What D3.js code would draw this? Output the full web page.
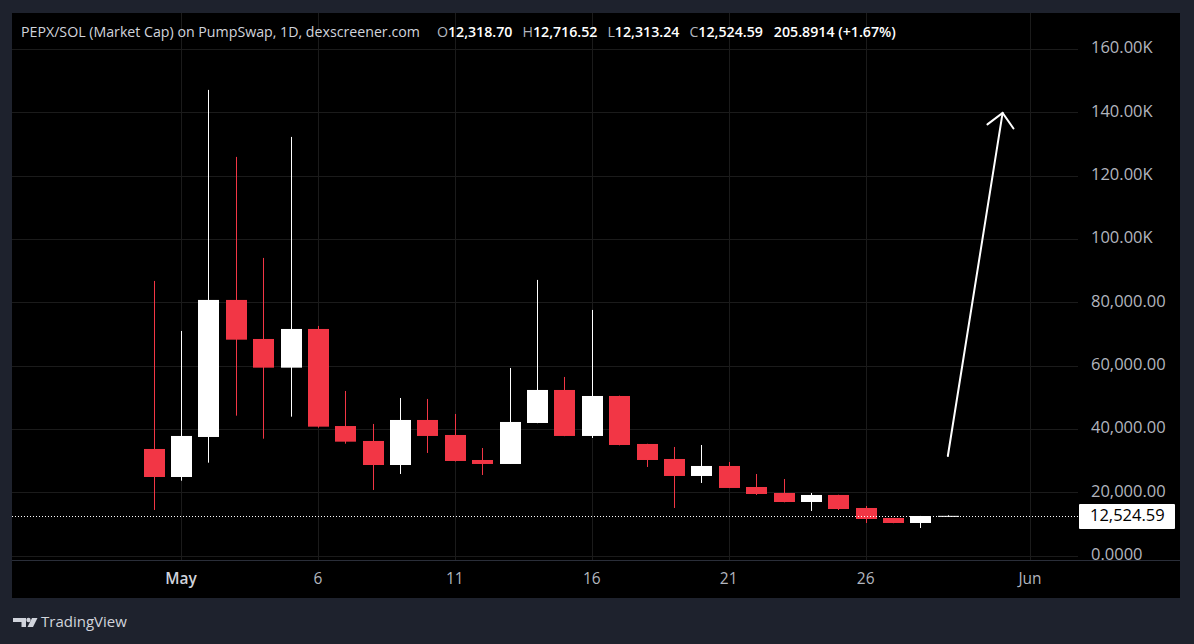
<!DOCTYPE html>
<html>
<head>
<meta charset="utf-8">
<script src="https://cdn.jsdelivr.net/npm/d3@7"></script>
<style>
  html, body { margin: 0; padding: 0; background: #1e222d; }
  svg { display: block; }
  text { font-family: "Open Sans", Roboto, sans-serif; }
</style>
</head>
<body>
<svg id="chart" width="1194" height="644"></svg>
<script>
// daily candles, market cap in USD
let dates = [
  "2025-04-30", "2025-05-01", "2025-05-02", "2025-05-03", "2025-05-04",
  "2025-05-05", "2025-05-06", "2025-05-07", "2025-05-08", "2025-05-09",
  "2025-05-10", "2025-05-11", "2025-05-12", "2025-05-13", "2025-05-14",
  "2025-05-15", "2025-05-16", "2025-05-17", "2025-05-18", "2025-05-19",
  "2025-05-20", "2025-05-21", "2025-05-22", "2025-05-23", "2025-05-24",
  "2025-05-25", "2025-05-26", "2025-05-27", "2025-05-28", "2025-05-29"
]
let open = [
  33650, 24800, 37440, 80730, 68400, 59340, 71560, 40900, 36180, 28590,
  42810, 38070, 30170, 28910, 41860, 52290, 37760, 50390, 35230, 30490,
  25120, 28280, 21640, 19750, 16900, 19120, 15010, 11850, 10270, 12318.70
]
let high = [
  86730, 70930, 147080, 125910, 94000, 132230, 72510, 51970, 41550, 49760,
  49450, 44710, 33960, 59240, 87050, 56400, 77570, 50500, 35300, 34280,
  34910, 29540, 25750, 24170, 19750, 19200, 15640, 11900, 12500, 12716.52
]
let low = [
  14380, 23630, 29320, 44170, 36900, 43850, 40380, 35320, 20700, 25750,
  32390, 29700, 25430, 28900, 41800, 37700, 37120, 34800, 27960, 15010,
  22910, 21300, 19120, 16800, 14060, 14380, 10270, 10200, 8690, 12313.24
]
let close = [
  24800, 37760, 80730, 68180, 59340, 71560, 40700, 35960, 28590, 42810,
  37760, 29860, 28910, 42180, 52290, 37760, 50390, 34910, 30170, 25120,
  28280, 21330, 19430, 16900, 19120, 14690, 11530, 10270, 12480, 12524.59
]

let priceTicks = [0, 20000, 40000, 60000, 80000, 100000, 120000, 140000, 160000]
let priceTickLabels = ["0.0000", "20,000.00", "40,000.00", "60,000.00", "80,000.00",
  "100.00K", "120.00K", "140.00K", "160.00K"]
let timeTicks = ["2025-05-01", "2025-05-06", "2025-05-11", "2025-05-16", "2025-05-21", "2025-05-26", "2025-06-01"]
let timeTickLabels = ["May", "6", "11", "16", "21", "26", "Jun"]

let lastPrice = 12524.59
let arrowDates = ["2025-05-29", "2025-05-31"]
let arrowPrices = [31440, 139800]

let titleText = "PEPX/SOL (Market Cap) on PumpSwap, 1D, dexscreener.com"
let legendParts = [
  ["O", "12,318.70"], ["H", "12,716.52"], ["L", "12,313.24"], ["C", "12,524.59"]
]
let changeText = "205.8914 (+1.67%)"

let upColor = "#ffffff"
let downColor = "#f23645"
let gridColor = "#1b1b1b"
let axisText = "#b2b5be"

let svg = d3.select("#chart")
let paneLeft = 12, paneRight = 1078, paneTop = 13, paneBottom = 560
let frameRight = 1180, frameBottom = 598

let parse = d3.utcParse("%Y-%m-%d")

let x = d3.scaleUtc()
  .domain([parse("2025-05-01"), parse("2025-06-01")])
  .range([181, 1030])
let y = d3.scaleLinear()
  .domain([0, 160000])
  .range([555.5, 49])

// chart background
svg.append("rect")
  .attr("x", paneLeft)
  .attr("y", paneTop)
  .attr("width", frameRight - paneLeft)
  .attr("height", frameBottom - paneTop)
  .style("fill", "#000")

svg.append("clipPath").attr("id", "pane")
  .append("rect")
  .attr("x", paneLeft)
  .attr("y", paneTop)
  .attr("width", paneRight - paneLeft)
  .attr("height", paneBottom - paneTop)

let pane = svg.append("g").attr("clip-path", "url(#pane)")

// grid
pane.selectAll(".vgrid")
  .data(timeTicks)
  .enter().append("line")
  .attr("x1", d => Math.round(x(parse(d))) + 0.5)
  .attr("x2", d => Math.round(x(parse(d))) + 0.5)
  .attr("y1", paneTop)
  .attr("y2", paneBottom)
  .style("stroke", gridColor)

pane.selectAll(".hgrid")
  .data(priceTicks)
  .enter().append("line")
  .attr("x1", paneLeft)
  .attr("x2", paneRight)
  .attr("y1", d => Math.round(y(d)) + 0.5)
  .attr("y2", d => Math.round(y(d)) + 0.5)
  .style("stroke", gridColor)

// candles
let candles = dates.map((d, i) => ({
  date: parse(d), o: open[i], h: high[i], l: low[i], c: close[i]
}))
let bodyW = 21

pane.selectAll(".wick")
  .data(candles)
  .enter().append("line")
  .attr("x1", d => Math.round(x(d.date)) + 0.5)
  .attr("x2", d => Math.round(x(d.date)) + 0.5)
  .attr("y1", d => y(d.h))
  .attr("y2", d => y(d.l))
  .style("stroke", d => d.c >= d.o ? upColor : downColor)

pane.selectAll(".body")
  .data(candles)
  .enter().append("rect")
  .attr("x", d => Math.round(x(d.date)) - (bodyW - 1) / 2)
  .attr("width", bodyW)
  .attr("y", d => y(Math.max(d.o, d.c)))
  .attr("height", d => Math.max(1, y(Math.min(d.o, d.c)) - y(Math.max(d.o, d.c))))
  .style("fill", d => d.c >= d.o ? upColor : downColor)

// last price line
svg.append("line")
  .attr("x1", paneLeft)
  .attr("x2", 1079)
  .attr("y1", Math.round(y(lastPrice)) + 0.5)
  .attr("y2", Math.round(y(lastPrice)) + 0.5)
  .style("stroke", "#fff")
  .style("stroke-dasharray", "1,2")

// arrow drawing
let p0 = [x(parse(arrowDates[0])), y(arrowPrices[0])]
let p1 = [x(parse(arrowDates[1])), y(arrowPrices[1])]
let back = Math.atan2(p0[1] - p1[1], p0[0] - p1[0])
let headLen = 19
let headAng = 44 * Math.PI / 180
let arrow = pane.append("g")
  .style("stroke", "#fff")
  .style("stroke-width", 2)
  .style("stroke-linecap", "round")
  .style("fill", "none")
arrow.append("line")
  .attr("x1", p0[0]).attr("y1", p0[1])
  .attr("x2", p1[0]).attr("y2", p1[1])
arrow.append("path")
  .attr("d", d3.line()([
    [p1[0] + headLen * Math.cos(back + headAng), p1[1] + headLen * Math.sin(back + headAng)],
    p1,
    [p1[0] + headLen * Math.cos(back - headAng), p1[1] + headLen * Math.sin(back - headAng)]
  ]))

// header legend
let legend = svg.append("text")
  .attr("x", 21)
  .attr("y", 33)
  .attr("dominant-baseline", "middle")
  .style("font-size", "14.2px")
  .style("fill", "#d1d4dc")
legend.append("tspan").text(titleText)
legendParts.forEach((p, i) => {
  legend.append("tspan").attr("dx", i == 0 ? 17 : 10).style("fill", "#b2b5be").text(p[0])
  legend.append("tspan").style("fill", "#fff").style("font-weight", 600).text(p[1])
})
legend.append("tspan").attr("dx", 11).style("fill", "#fff").style("font-weight", 600).text(changeText)

// price axis
let priceAxis = svg.append("g").attr("clip-path", "url(#priceClip)")
svg.append("clipPath").attr("id", "priceClip")
  .append("rect")
  .attr("x", paneRight).attr("y", paneTop)
  .attr("width", frameRight - paneRight).attr("height", paneBottom - paneTop)
priceAxis.selectAll("text")
  .data(priceTicks)
  .enter().append("text")
  .attr("x", 1091)
  .attr("y", d => y(d))
  .attr("dominant-baseline", "middle")
  .style("font-size", "16.5px")
  .style("fill", axisText)
  .text((d, i) => priceTickLabels[i])

svg.append("rect")
  .attr("x", 1079)
  .attr("y", 504)
  .attr("width", 96)
  .attr("height", 25)
  .attr("rx", 1)
  .style("fill", "#fff")
svg.append("text")
  .attr("x", 1090)
  .attr("y", 516.5)
  .attr("dominant-baseline", "middle")
  .style("font-size", "16.5px")
  .style("fill", "#000")
  .text(d3.format(",.2f")(lastPrice))

// time axis
svg.append("line")
  .attr("x1", paneLeft)
  .attr("x2", frameRight)
  .attr("y1", paneBottom + 0.5)
  .attr("y2", paneBottom + 0.5)
  .style("stroke", "#2a2e39")

svg.selectAll(".tlabel")
  .data(timeTicks)
  .enter().append("text")
  .attr("x", d => x(parse(d)))
  .attr("y", 580)
  .attr("text-anchor", "middle")
  .attr("dominant-baseline", "middle")
  .style("font-size", "15.5px")
  .style("font-weight", (d, i) => i == 0 ? 600 : 400)
  .style("fill", (d, i) => i == 0 ? "#d1d4dc" : axisText)
  .text((d, i) => timeTickLabels[i])

// TradingView logo
let logo = svg.append("g").style("fill", "#d1d4dc")
logo.append("path").attr("d", "M13,618 H26 V627 H21.5 V622 H13 Z")
logo.append("circle").attr("cx", 28.5).attr("cy", 620).attr("r", 2.2)
logo.append("path").attr("d", "M32,618 H37.5 L33,627 H27.5 Z")
svg.append("text")
  .attr("x", 41)
  .attr("y", 623)
  .attr("dominant-baseline", "middle")
  .style("font-size", "15px")
  .style("fill", "#d1d4dc")
  .text("TradingView")
</script>
</body>
</html>
